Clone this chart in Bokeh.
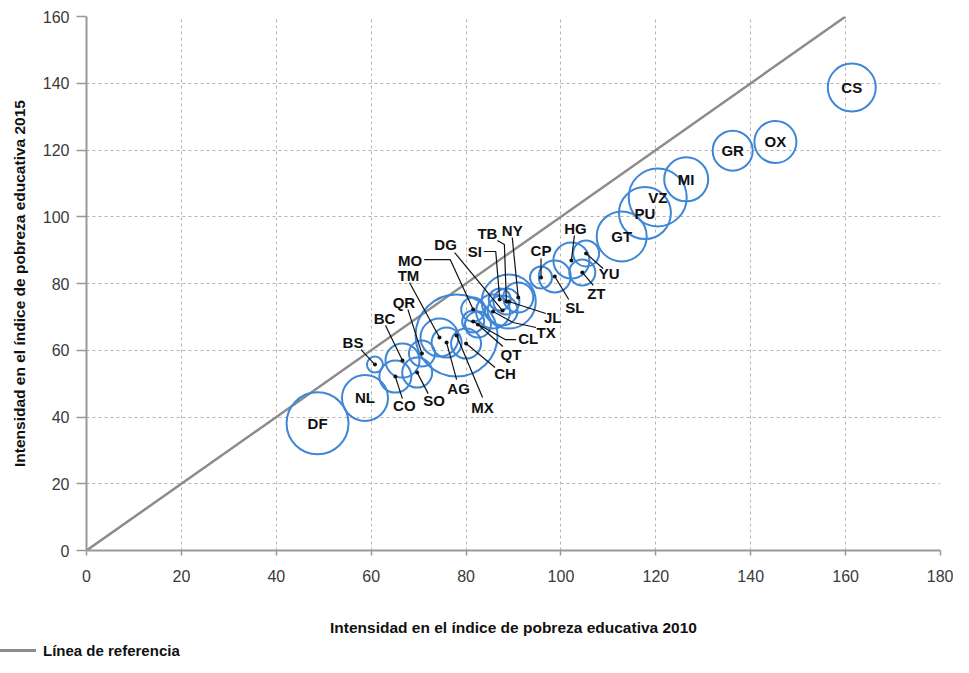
from bokeh.plotting import figure
from bokeh.layouts import column
from bokeh.models import Range1d, FixedTicker, ColumnDataSource, Div
from bokeh.core.properties import value
from bokeh.embed import file_html
from bokeh.resources import INLINE

# ---------------- data ----------------
states = ["DF", "NL", "BS", "CO", "BC", "SO", "QR", "TM", "AG", "MX", "CH",
          "MO", "CL", "QT", "TX", "DG", "SI", "TB", "JL", "NY", "CP", "SL",
          "HG", "ZT", "YU", "GT", "PU", "VZ", "MI", "GR", "OX", "CS"]
idx_2010 = [48.7, 58.7, 60.8, 65.1, 66.6, 69.7, 70.7, 74.4, 75.9, 78.0, 80.0,
            81.5, 81.5, 82.5, 85.7, 87.7, 87.1, 88.5, 89.0, 91.0, 95.8, 98.7,
            102.2, 104.5, 105.3, 112.8, 117.7, 120.4, 126.4, 136.2, 145.2, 161.3]
idx_2015 = [38.1, 45.7, 55.7, 52.1, 56.9, 53.3, 59.0, 63.8, 62.3, 64.4, 62.0,
            72.2, 68.6, 67.7, 71.6, 71.9, 75.2, 74.6, 74.6, 75.8, 81.8, 82.1,
            86.9, 83.3, 89.0, 94.1, 101.1, 105.8, 111.2, 119.8, 122.4, 138.7]
bubble_weight = [62, 46, 16, 32, 34, 30, 26, 38, 30, 82, 30,
                 24, 22, 26, 34, 30, 22, 26, 54, 30, 22, 32,
                 36, 26, 26, 50, 52, 58, 44, 40, 42, 48]
ref_x = [0, 160]
ref_y = [0, 160]
x_ticks = [0, 20, 40, 60, 80, 100, 120, 140, 160, 180]
y_ticks = [0, 20, 40, 60, 80, 100, 120, 140, 160]
legend_label = "Línea de referencia"

# ------------- layout -------------
X_MIN, X_MAX, Y_MIN, Y_MAX = 0, 180, 0, 160
W = 953
BORDER_L, BORDER_R, BORDER_T, BORDER_B = 86, 13, 16, 90
FRAME_W, FRAME_H = W - BORDER_L - BORDER_R, 534
MAIN_H = BORDER_T + FRAME_H + BORDER_B
LEG_H = 657 - MAIN_H
PX_X = FRAME_W / (X_MAX - X_MIN)
PX_Y = FRAME_H / (Y_MAX - Y_MIN)

# call-out label offsets and leader elbows, in screen px from the bubble centre
callouts = {
    "BS": ((-22, -22), [(-14, -15)]),
    "BC": ((-18, -42), [(-17, -35)]),
    "QR": ((-18, -51), [(-14, -44)]),
    "TM": ((-31, -62), [(-30, -55)]),
    "MO": ((-63, -49), [(-49, -50), (-23, -50)]),
    "DG": ((-57, -66), [(-48, -58)]),
    "SI": ((-25, -48), [(-16, -48), (-4, -48)]),
    "TB": ((-19, -68), [(-9, -61), (-2, -57)]),
    "NY": ((-6, -67), [(-6, -60)]),
    "JL": ((44, 16), [(37, 12)]),
    "TX": ((53, 21), [(43, 16), (20, 11)]),
    "CL": ((55, 17), [(43, 18), (32, 18)]),
    "QT": ((33, 30), [(25, 22)]),
    "CH": ((39, 30), [(29, 24)]),
    "MX": ((26, 72), [(26, 62)]),
    "AG": ((12, 46), [(10, 37)]),
    "SO": ((17, 28), [(11, 21)]),
    "CO": ((9, 29), [(7, 22)]),
    "CP": ((0, -27), [(0, -19)]),
    "SL": ((20, 31), [(14, 23)]),
    "HG": ((4, -32), [(3, -25)]),
    "YU": ((23, 20), [(17, 15)]),
    "ZT": ((14, 21), [(11, 13)]),
}

FONT = "Liberation Sans"
BLUE = "#3f86d6"
GRAY = "#8c8c8c"

p = figure(width=W, height=MAIN_H, output_backend="svg", toolbar_location=None,
           x_range=Range1d(X_MIN, X_MAX), y_range=Range1d(Y_MIN, Y_MAX),
           min_border_left=BORDER_L, min_border_right=BORDER_R,
           min_border_top=BORDER_T, min_border_bottom=BORDER_B)
p.outline_line_color = None
p.background_fill_color = "white"

for g in (p.xgrid[0], p.ygrid[0]):
    g.grid_line_color = "#b5b5b5"
    g.grid_line_dash = "3 3"
    g.grid_line_width = 1
p.xaxis.ticker = FixedTicker(ticks=x_ticks)
p.yaxis.ticker = FixedTicker(ticks=y_ticks)

for ax in (p.xaxis[0], p.yaxis[0]):
    ax.axis_line_color = "#999999"
    ax.axis_line_width = 2
    ax.major_tick_line_color = "#999999"
    ax.major_tick_line_width = 1.5
    ax.minor_tick_line_color = None
    ax.major_tick_in = 0
    ax.major_label_text_font = FONT
    ax.major_label_text_font_size = "16px"
    ax.major_label_text_color = "#3a3a3a"
    ax.axis_label_text_font = FONT
    ax.axis_label_text_font_size = "15.5px"
    ax.axis_label_text_font_style = "bold"
    ax.axis_label_text_color = "#111111"

p.xaxis.axis_label = "Intensidad en el índice de pobreza educativa 2010"
p.yaxis.axis_label = "Intensidad en el índice de pobreza educativa 2015"
p.xaxis.major_tick_out = 5
p.xaxis.major_label_standoff = 14
p.xaxis.axis_label_standoff = 34
p.yaxis.major_tick_out = 10
p.yaxis.major_label_standoff = 7
p.yaxis.axis_label_standoff = 12

# reference line
p.line(ref_x, ref_y, line_color=GRAY, line_width=2.5)

# bubbles
src = ColumnDataSource(dict(x=idx_2010, y=idx_2015, s=bubble_weight, name=states))
p.scatter("x", "y", size="s", source=src, marker="circle",
          fill_color=None, line_color=BLUE, line_width=2)

# call-outs
lx, ly, lt = [], [], []
ix, iy, it = [], [], []
mx, my = [], []
dx_pts, dy_pts = [], []
for st, x, y in zip(states, idx_2010, idx_2015):
    if st in callouts:
        (ox, oy), path = callouts[st]
        lx.append(x + ox / PX_X)
        ly.append(y - oy / PX_Y)
        lt.append(st)
        mx.append([x + px / PX_X for px, py in path] + [x])
        my.append([y - py / PX_Y for px, py in path] + [y])
        dx_pts.append(x)
        dy_pts.append(y)
    else:
        ix.append(x)
        iy.append(y)
        it.append(st)

p.multi_line(mx, my, line_color="#111111", line_width=1.2)
p.scatter(dx_pts, dy_pts, size=4, marker="circle", fill_color="#111111",
          line_color=None)

for xs_, ys_, ts_ in ((lx, ly, lt), (ix, iy, it)):
    p.text(x=xs_, y=ys_, text=ts_, text_font=value(FONT), text_font_style="bold",
           text_font_size="15px", text_color="#111111", text_align="center",
           text_baseline="middle")

# legend strip below the chart (starts at the page's left edge, like the original)
legend_html = (
    f'<div style="display:flex;align-items:center;height:{LEG_H}px;'
    f"font-family:'{FONT}',sans-serif;font-weight:bold;font-size:15px;"
    f'color:#111111;white-space:nowrap;">'
    f'<span style="display:inline-block;width:36px;height:3.5px;'
    f'background:{GRAY};margin-right:7px;"></span>{legend_label}</div>'
)
leg = Div(text=legend_html, width=W, height=LEG_H, margin=(0, 0, 0, 0))

layout = column(p, leg, spacing=0)
open("out.html", "w").write(file_html(layout, INLINE))
